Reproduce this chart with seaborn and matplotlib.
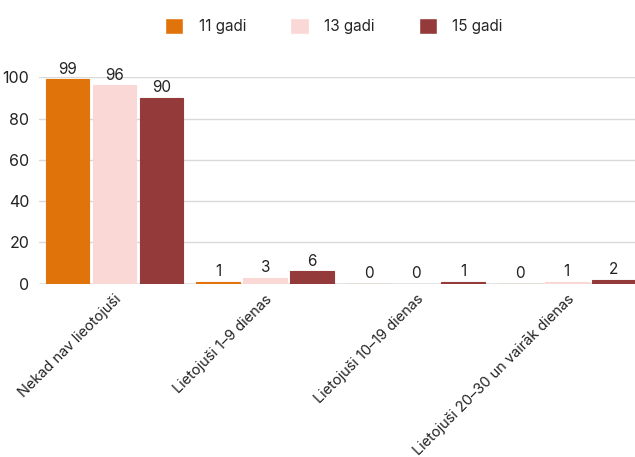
import pandas as pd
import seaborn as sns
import matplotlib.pyplot as plt
from matplotlib.patches import Patch

kategorijas = ['Nekad nav lieotojuši', 'Lietojuši 1–9 dienas',
               'Lietojuši 10–19 dienas', 'Lietojuši 20–30 un vairāk dienas']
vecumi = ['11 gadi', '13 gadi', '15 gadi']
v11 = [99, 1, 0, 0]
v13 = [96, 3, 0, 1]
v15 = [90, 6, 1, 2]
krasas = ['#E07309', '#F9D8D6', '#953A3A']
y_ticks = [0, 20, 40, 60, 80, 100]

rows = []
for vec, vals in zip(vecumi, [v11, v13, v15]):
    for kat, v in zip(kategorijas, vals):
        rows.append({'kategorija': kat, 'vecums': vec, 'vertiba': v})
df = pd.DataFrame(rows)

sns.set_style('white')
plt.rcParams['font.family'] = ['Inter', 'DejaVu Sans']

fig = plt.figure(figsize=(6.35, 4.57), dpi=100)
# plotting area runs a bit past the right edge, like the original
ax = fig.add_axes([0.0614, 0.379, 0.95, 0.452])

sns.barplot(data=df, x='kategorija', y='vertiba', hue='vecums',
            palette=krasas, width=0.935, gap=0.075, saturation=1,
            legend=False, ax=ax, zorder=3)

for p in ax.patches:
    p.set_edgecolor(p.get_facecolor())
    p.set_linewidth(0.8)

for cont in ax.containers:
    ax.bar_label(cont, padding=2, fontsize=11, color='#222222')

ax.set_ylim(0, 100)
ax.set_xlim(-0.5, 3.5)
ax.set_yticks(y_ticks)
ax.tick_params(axis='y', labelsize=11.5, colors='#222222', length=0, pad=7)
ax.tick_params(axis='x', length=0, pad=6)
ax.set_xticks(range(len(kategorijas)))
ax.set_xticklabels(kategorijas, rotation=45, ha='right', rotation_mode='anchor',
                   fontsize=10.5, color='#222222')
ax.grid(axis='y', color='#D9D9D9', linewidth=1, zorder=0)
ax.axhline(0, color='#999999', linewidth=1, zorder=2)
for s in ['top', 'right', 'left', 'bottom']:
    ax.spines[s].set_visible(False)
ax.set_xlabel('')
ax.set_ylabel('')

handles = [Patch(facecolor=c, label=l) for c, l in zip(krasas, vecumi)]
fig.legend(handles=handles, loc='center', bbox_to_anchor=(0.526, 0.943),
           ncol=3, frameon=False, fontsize=11, handlelength=1.2,
           handleheight=1.2, columnspacing=2.9, handletextpad=1.0)

fig.savefig('out.png', dpi=100)
